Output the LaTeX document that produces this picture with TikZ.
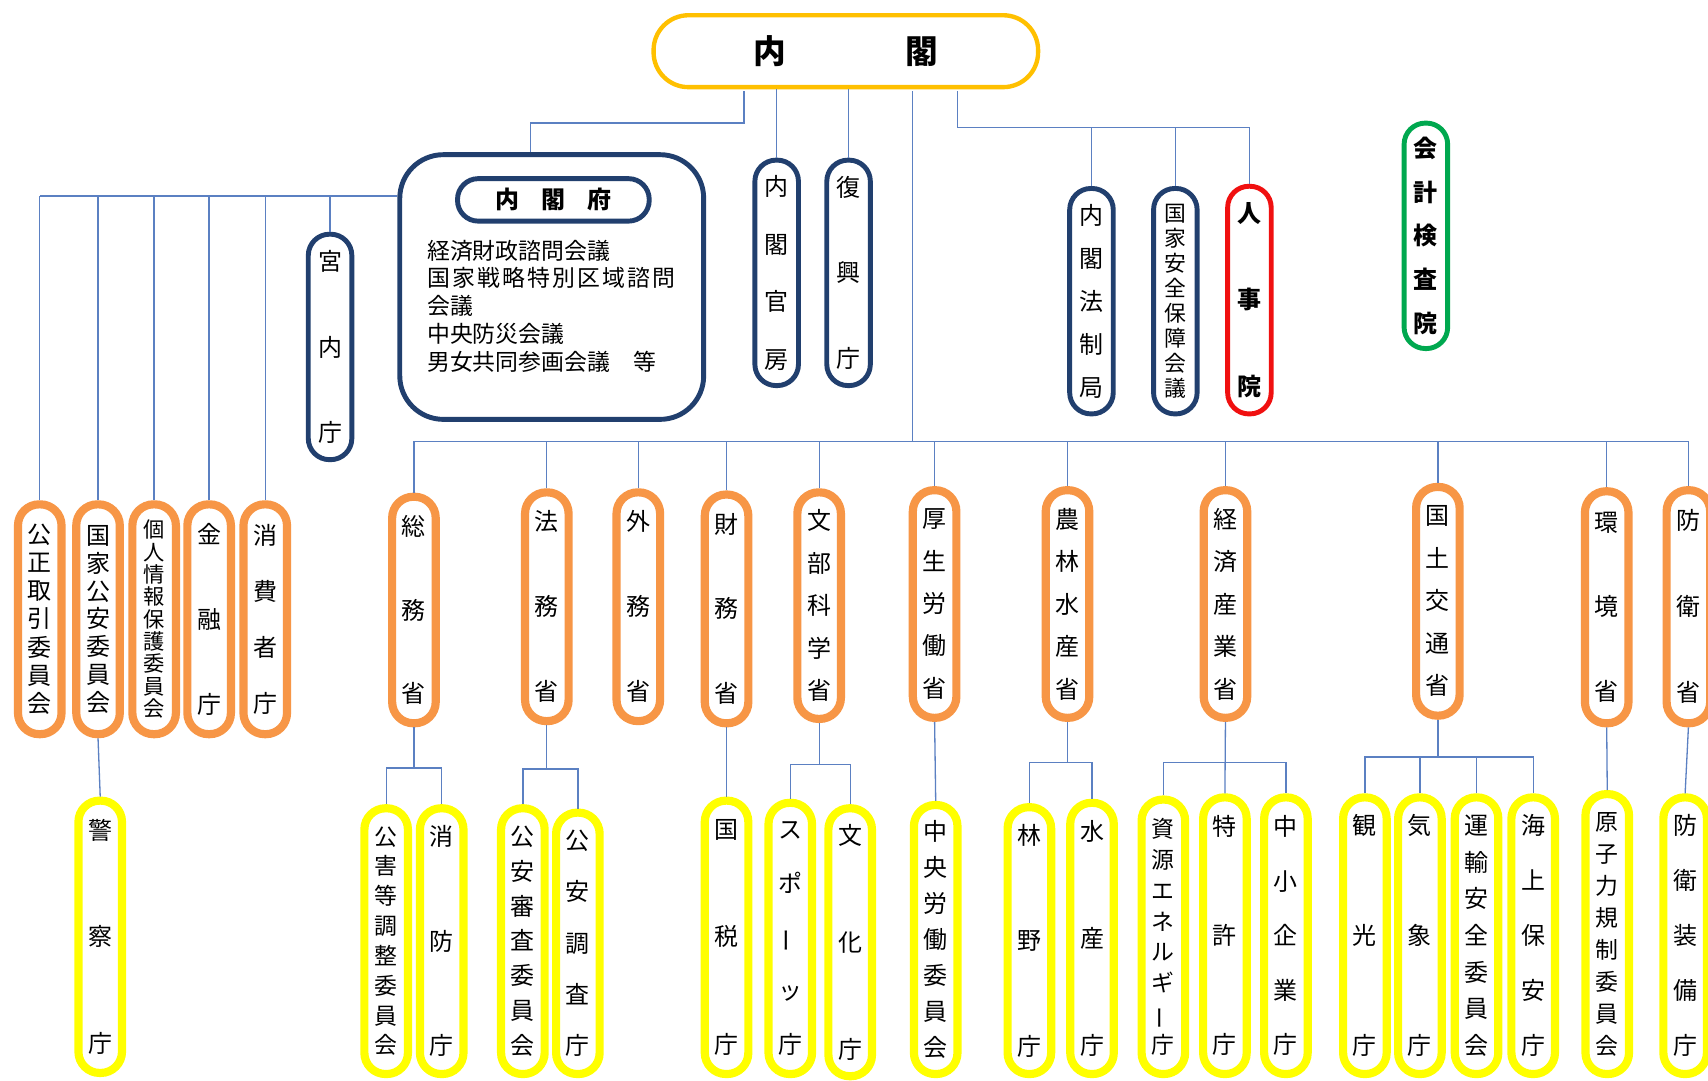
\documentclass[tikz,border=0pt]{standalone}
\usepackage{fontspec}
\setmainfont{Noto Sans CJK JP}
\usetikzlibrary{calc}
\definecolor{porange}{HTML}{F79646}
\definecolor{pyellow}{HTML}{FFFF00}
\definecolor{pnavy}{HTML}{213F6E}
\definecolor{pred}{HTML}{F01010}
\definecolor{pgreen}{HTML}{00A84F}
\definecolor{pgold}{HTML}{FFC000}
\definecolor{connblue}{HTML}{5B80C2}
\def\pillfont{}
\tikzset{
  conn/.style={draw=connblue, line width=1.2pt},
  boldtext/.code={\def\pillfont{\bfseries}},
  pillbase/.style={rectangle, align=center, inner sep=0pt, fill=white, minimum width=40pt, rounded corners=19.5pt},
  opill/.style={pillbase, draw=porange, line width=7.5pt},
  ypill/.style={pillbase, draw=pyellow, line width=7.5pt},
  npill/.style={pillbase, draw=pnavy, line width=4.5pt},
  rpill/.style={pillbase, draw=pred, line width=4.5pt, boldtext},
  gpill/.style={pillbase, draw=pgreen, line width=4.5pt, boldtext},
}
% style, name, x, top, bottom, font size, spacing, text
\newcommand\vpill[8]{%
  \pgfmathsetmacro\pillh{#5-#4-6}%
  \node[#1, minimum height=\pillh pt, font=\fontsize{#6}{#7}\selectfont\pillfont] (#2) at (#3,{(#4+#5)/2}) {#8};}
\newcommand\cho{\rotatebox[origin=c]{90}{ー}}
\newcommand\ks{\kern2pt }
\begin{document}
\begin{tikzpicture}[x=1pt,y=-1pt]
\fill[white] (0,0) rectangle (1568,992);
\useasboundingbox (0,0) rectangle (1568,992);

% ---- top
\node[draw=pgold, line width=4pt, rounded corners=32pt, minimum width=353pt, minimum height=66pt,
      inner sep=0pt, fill=white, font=\fontsize{30}{30}\selectfont\bfseries] (naikaku) at (776.5,47) {内\hspace{110pt}閣};

% ---- Cabinet Office box
\node[draw=pnavy, line width=4.5pt, rounded corners=40pt, minimum width=279pt, minimum height=243pt, inner sep=0pt] (fu) at (506.5,263.5) {};
\node[draw=pnavy, line width=4.5pt, rounded corners=19pt, minimum width=176pt, minimum height=39pt, inner sep=0pt,
      font=\fontsize{22}{22}\selectfont\bfseries] (futitle) at (508,183.5) {内\hspace{20pt}閣\hspace{20pt}府};
\node[anchor=west, align=left, inner sep=0pt, font=\fontsize{21}{25.5}\selectfont] (futext) at (392,281)
  {経済財政諮問会議\\国\ks 家\ks 戦\ks 略\ks 特\ks 別\ks 区\ks 域\ks 諮\ks 問\\会議\\中央防災会議\\男女共同参画会議　等};

% ---- navy / red / green pills
\vpill{npill}{kunai}{303}{212}{425}{22}{78.5}{宮\\内\\庁}
\vpill{npill}{kanbo}{713}{144}{357}{22}{52.7}{内\\閣\\官\\房}
\vpill{npill}{fukko}{779}{144}{357}{22}{78.5}{復\\興\\庁}
\vpill{npill}{hosei}{1002}{170}{383}{22}{39.5}{内\\閣\\法\\制\\局}
\vpill{npill}{anpo}{1079}{170}{383}{20}{23}{国\\家\\安\\全\\保\\障\\会\\議}
\vpill{rpill}{jinji}{1147}{168}{383}{22}{79}{人\\事\\院}
\vpill{gpill}{kaikei}{1309}{110}{323}{22}{40}{会\\計\\検\\査\\院}

% ---- left orange pills
\vpill{opill}{kotori}{36.5}{460}{677}{22}{26}{公\\正\\取\\引\\委\\員\\会}
\vpill{opill}{kokka}{90}{460}{677}{22}{25.5}{国\\家\\公\\安\\委\\員\\会}
\vpill{opill}{kojin}{141.5}{460}{677}{19.5}{20.5}{個\\人\\情\\報\\保\\護\\委\\員\\会}
\vpill{opill}{kinyu}{192}{460}{677}{22}{78}{金\\融\\庁}
\vpill{opill}{shohi}{243.5}{460}{677}{22}{51.3}{消\\費\\者\\庁}

% ---- ministries
\vpill{opill}{somu}{380}{453}{667}{22}{77}{総\\務\\省}
\vpill{opill}{homu}{502}{449}{665}{22}{78}{法\\務\\省}
\vpill{opill}{gaimu}{586}{449}{665}{22}{78}{外\\務\\省}
\vpill{opill}{zaimu}{667}{451}{667}{22}{78}{財\\務\\省}
\vpill{opill}{monka}{752}{449}{663}{22}{39}{文\\部\\科\\学\\省}
\vpill{opill}{kosei}{858}{447}{662}{22}{39}{厚\\生\\労\\働\\省}
\vpill{opill}{nosui}{980}{447}{662}{22}{39}{農\\林\\水\\産\\省}
\vpill{opill}{keisan}{1125}{447}{662}{22}{39}{経\\済\\産\\業\\省}
\vpill{opill}{kokudo}{1320}{444}{660}{22}{39}{国\\土\\交\\通\\省}
\vpill{opill}{kankyo}{1475}{448}{667}{22}{78}{環\\境\\省}
\vpill{opill}{boei}{1550}{447}{667}{22}{79}{防\\衛\\省}

% ---- agencies
\vpill{ypill}{keisatsu}{92}{732}{988}{22}{97.5}{警\\察\\庁}
\vpill{ypill}{kogai}{354.5}{739}{989}{21}{27.4}{公\\害\\等\\調\\整\\委\\員\\会}
\vpill{ypill}{shobo}{405.5}{739}{989}{22}{96}{消\\防\\庁}
\vpill{ypill}{koshin}{480}{739}{989}{22}{32}{公\\安\\審\\査\\委\\員\\会}
\vpill{ypill}{kocho}{530.5}{743}{989}{22}{47}{公\\安\\調\\査\\庁}
\vpill{ypill}{kokuzei}{667}{732}{989}{22}{99}{国\\税\\庁}
\vpill{ypill}{sports}{725.5}{734}{989}{22}{49.5}{ス\\ポ\\\cho\\ッ\\庁}
\vpill{ypill}{bunka}{780.5}{739}{991}{22}{98}{文\\化\\庁}
\vpill{ypill}{churo}{859}{736}{989}{22}{33}{中\\央\\労\\働\\委\\員\\会}
\vpill{ypill}{rinya}{945}{738}{989}{22}{97}{林\\野\\庁}
\vpill{ypill}{suisan}{1002.5}{734}{989}{22}{98}{水\\産\\庁}
\vpill{ypill}{shigen}{1068}{731}{989}{21}{28.3}{資\\源\\エ\\ネ\\ル\\ギ\\\cho\\庁}
\vpill{ypill}{tokkyo}{1124.5}{729}{989}{22}{100}{特\\許\\庁}
\vpill{ypill}{chusho}{1180.5}{729}{989}{22}{50}{中\\小\\企\\業\\庁}
\vpill{ypill}{kanko}{1253}{729}{989}{22}{101}{観\\光\\庁}
\vpill{ypill}{kisho}{1303.5}{729}{989}{22}{101}{気\\象\\庁}
\vpill{ypill}{unyu}{1355.5}{729}{989}{22}{33.7}{運\\輸\\安\\全\\委\\員\\会}
\vpill{ypill}{kaiho}{1407.5}{729}{989}{22}{50.5}{海\\上\\保\\安\\庁}
\vpill{ypill}{genshi}{1475.5}{726}{989}{21}{29.4}{原\\子\\力\\規\\制\\委\\員\\会}
\vpill{ypill}{sobi}{1547}{729}{989}{22}{50.5}{防\\衛\\装\\備\\庁}

% ---- bus coordinates
\coordinate (nk1) at (683,84);
\coordinate (nk4) at (838,84);
\coordinate (nk5) at (879,84);
\coordinate (jfu) at (0,113);
\coordinate (rbus) at (0,117);
\coordinate (lbus) at (0,180);
\coordinate (mbus) at (0,405);
\coordinate (bsomu) at (0,705);
\coordinate (bhomu) at (0,706);
\coordinate (bmonka) at (0,702);
\coordinate (bnosui) at (0,700);
\coordinate (bkeisan) at (0,700);
\coordinate (bkokudo) at (0,695);

% ---- connectors from the Cabinet
\draw[conn] (nk1) -- (nk1 |- jfu) -| ([xshift=-19.5pt]fu.north);
\draw[conn] (kanbo.north) -- (kanbo.north |- naikaku.south);
\draw[conn] (fukko.north) -- (fukko.north |- naikaku.south);
\draw[conn] (nk4) -- (nk4 |- mbus);
\draw[conn] (nk5) |- (jinji.north |- rbus) -- (jinji.north);
\draw[conn] (hosei.north) -- (hosei.north |- rbus);
\draw[conn] (anpo.north) -- (anpo.north |- rbus);

% ---- left bus
\draw[conn] (kotori.north |- lbus) -- (fu.west |- lbus);
\foreach \n in {kotori,kokka,kojin,kinyu,shohi,kunai}
  \draw[conn] (\n.north) -- (\n.north |- lbus);
\draw[conn] (kokka.south) -- (keisatsu.north);

% ---- ministries bus
\draw[conn] (somu.north |- mbus) -- (boei.north |- mbus);
\foreach \n in {somu,homu,gaimu,zaimu,monka,kosei,nosui,keisan,kokudo,kankyo,boei}
  \draw[conn] (\n.north) -- (\n.north |- mbus);

% ---- ministries to agencies
\draw[conn] (somu.south) -- (somu.south |- bsomu);
\draw[conn] (kogai.north) |- (shobo.north |- bsomu) -- (shobo.north);
\draw[conn] (homu.south) -- (homu.south |- bhomu);
\draw[conn] (koshin.north) |- (kocho.north |- bhomu) -- (kocho.north);
\draw[conn] (zaimu.south) -- (kokuzei.north);
\draw[conn] (monka.south) -- (monka.south |- bmonka);
\draw[conn] (sports.north) |- (bunka.north |- bmonka) -- (bunka.north);
\draw[conn] (kosei.south) -- (churo.north);
\draw[conn] (nosui.south) -- (nosui.south |- bnosui);
\draw[conn] (rinya.north) |- (suisan.north |- bnosui) -- (suisan.north);
\draw[conn] (keisan.south) -- (tokkyo.north);
\draw[conn] (shigen.north) |- (chusho.north |- bkeisan) -- (chusho.north);
\draw[conn] (kokudo.south) -- (kokudo.south |- bkokudo);
\draw[conn] (kanko.north) |- (kaiho.north |- bkokudo) -- (kaiho.north);
\draw[conn] (kisho.north) -- (kisho.north |- bkokudo);
\draw[conn] (unyu.north) -- (unyu.north |- bkokudo);
\draw[conn] (kankyo.south) -- (genshi.north);
\draw[conn] (boei.south) -- (sobi.north);
\end{tikzpicture}
\end{document}
